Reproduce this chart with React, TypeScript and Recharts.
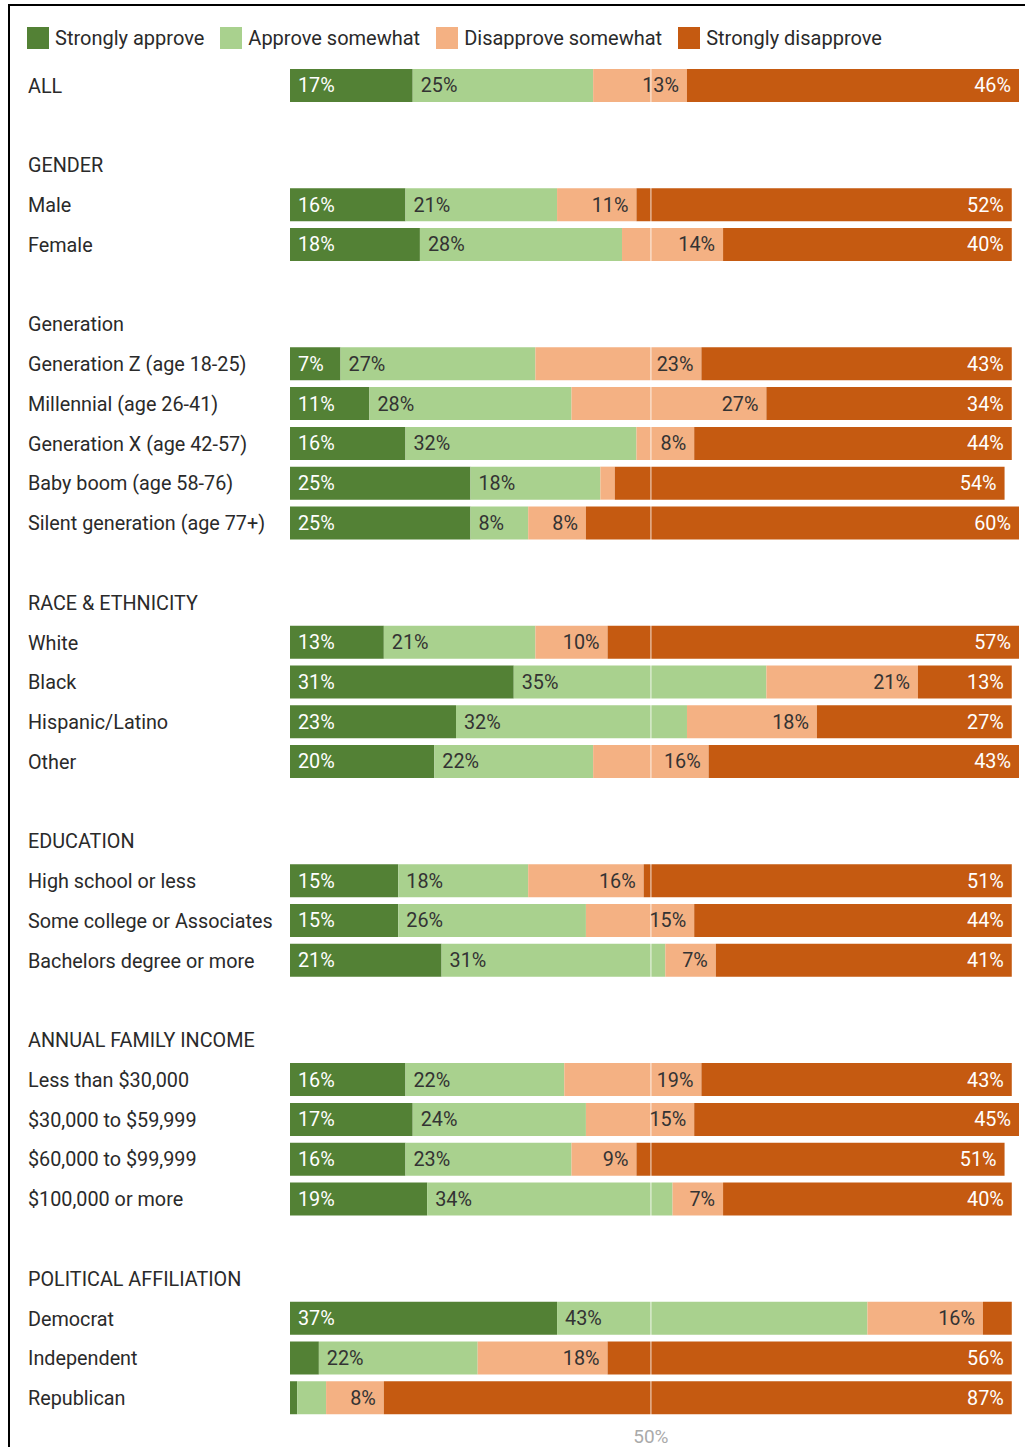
import React from "react";
import { BarChart, Bar, XAxis, YAxis, ReferenceLine, LabelList } from "recharts";

// one entry per row: group headers and blank spacer rows included
const rowLabels = [
  "ALL", "",
  "GENDER", "Male", "Female", "",
  "Generation", "Generation Z (age 18-25)", "Millennial (age 26-41)", "Generation X (age 42-57)", "Baby boom (age 58-76)", "Silent generation (age 77+)", "",
  "RACE & ETHNICITY", "White", "Black", "Hispanic/Latino", "Other", "",
  "EDUCATION", "High school or less", "Some college or Associates", "Bachelors degree or more", "",
  "ANNUAL FAMILY INCOME", "Less than $30,000", "$30,000 to $59,999", "$60,000 to $99,999", "$100,000 or more", "",
  "POLITICAL AFFILIATION", "Democrat", "Independent", "Republican",
];

const stronglyApprove = [
  17, null,
  null, 16, 18, null,
  null, 7, 11, 16, 25, 25, null,
  null, 13, 31, 23, 20, null,
  null, 15, 15, 21, null,
  null, 16, 17, 16, 19, null,
  null, 37, 4, 1,
];
const approveSomewhat = [
  25, null,
  null, 21, 28, null,
  null, 27, 28, 32, 18, 8, null,
  null, 21, 35, 32, 22, null,
  null, 18, 26, 31, null,
  null, 22, 24, 23, 34, null,
  null, 43, 22, 4,
];
const disapproveSomewhat = [
  13, null,
  null, 11, 14, null,
  null, 23, 27, 8, 2, 8, null,
  null, 10, 21, 18, 16, null,
  null, 16, 15, 7, null,
  null, 19, 15, 9, 7, null,
  null, 16, 18, 8,
];
const stronglyDisapprove = [
  46, null,
  null, 52, 40, null,
  null, 43, 34, 44, 54, 60, null,
  null, 57, 13, 27, 43, null,
  null, 51, 44, 41, null,
  null, 43, 45, 51, 40, null,
  null, 4, 56, 87,
];

const seriesNames = ["Strongly approve", "Approve somewhat", "Disapprove somewhat", "Strongly disapprove"];
const seriesColors = ["#538135", "#a9d18e", "#f4b183", "#c55a11"];

const xTicks = [50];

const data = rowLabels.map((label, i) => ({
  key: `r${i}`,
  label,
  sa: stronglyApprove[i],
  as: approveSomewhat[i],
  ds: disapproveSomewhat[i],
  sd: stronglyDisapprove[i],
}));

const FONT = "Roboto, 'Noto Sans', sans-serif";

const CategoryTick = (props: any) => {
  const { y, payload } = props;
  const idx = data.findIndex((d) => d.key === payload.value);
  return (
    <text x={28} y={y} dy="0.35em" textAnchor="start" fontSize={19.8} fill="#2a2a2a" fontFamily={FONT}>
      {idx >= 0 ? data[idx].label : ""}
    </text>
  );
};

const PctTick = (props: any) => {
  const { x, payload } = props;
  return (
    <text x={x} y={1436} dy="0.35em" textAnchor="middle" fontSize={19} fill="#aaa" fontFamily={FONT}>
      {payload.value}%
    </text>
  );
};

const makeLabel = (side: "left" | "right", color: string) => (props: any) => {
  const { x, y, width, height, value } = props;
  if (value == null || value < 5) return null;
  const tx = side === "left" ? x + 8 : x + width - 8;
  return (
    <text
      x={tx}
      y={y + height / 2}
      dy="0.35em"
      textAnchor={side === "left" ? "start" : "end"}
      fontSize={19.8}
      fill={color}
      fontFamily={FONT}
    >
      {value}%
    </text>
  );
};

export default function App() {
  const keys = ["sa", "as", "ds", "sd"];
  const labelSide: ("left" | "right")[] = ["left", "left", "right", "right"];
  const labelColor = ["#fff", "#333", "#333", "#fff"];

  return (
    <div style={{ position: "absolute", left: 0, top: 0, width: 1025, height: 1447, background: "#fff", fontFamily: FONT }}>
      <div
        style={{
          position: "absolute",
          left: 8,
          top: 4,
          width: 1017,
          height: 1443,
          borderTop: "2px solid #000",
          borderLeft: "2px solid #000",
          boxSizing: "border-box",
        }}
      />
      <div style={{ position: "absolute", left: 27, top: 26, display: "flex", alignItems: "center", fontSize: 20, color: "#2a2a2a" }}>
        {seriesNames.map((name, i) => (
          <div key={name} style={{ display: "flex", alignItems: "center", marginRight: 16 }}>
            <span style={{ width: 22, height: 22, background: seriesColors[i], display: "inline-block", marginRight: 6 }} />
            <span>{name}</span>
          </div>
        ))}
      </div>
      <div style={{ position: "absolute", left: 0, top: 0 }}>
        <BarChart
          width={1025}
          height={1447}
          data={data}
          layout="vertical"
          margin={{ top: 66, right: 6, bottom: 0, left: 0 }}
          barSize={33}
        >
          <XAxis
            type="number"
            domain={[0, 101]}
            ticks={xTicks}
            axisLine={false}
            tickLine={false}
            height={29}
            tick={<PctTick />}
          />
          <YAxis
            type="category"
            dataKey="key"
            width={290}
            axisLine={false}
            tickLine={false}
            interval={0}
            tick={<CategoryTick />}
          />
          {keys.map((k, i) => (
            <Bar key={k} dataKey={k} name={seriesNames[i]} stackId="a" fill={seriesColors[i]} isAnimationActive={false}>
              <LabelList dataKey={k} content={makeLabel(labelSide[i], labelColor[i])} />
            </Bar>
          ))}
          <ReferenceLine x={50} stroke="rgba(255,255,255,0.55)" strokeWidth={1.5} />
        </BarChart>
      </div>
    </div>
  );
}
